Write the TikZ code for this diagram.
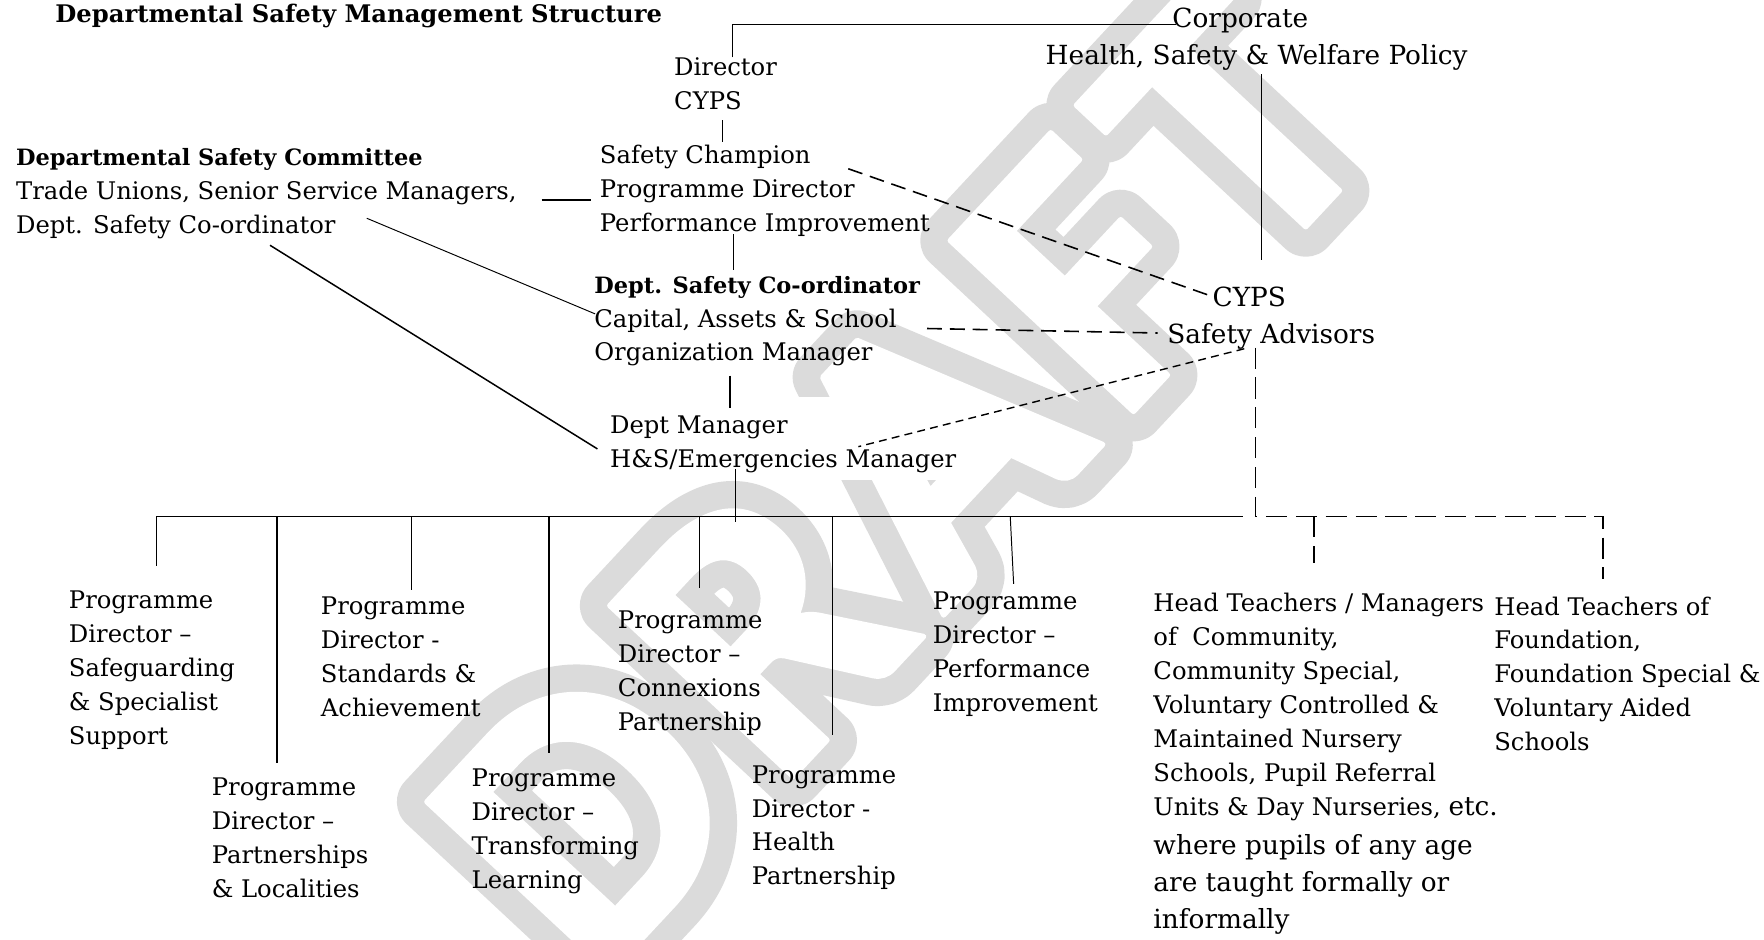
\documentclass[tikz,border=0pt]{standalone}
\usepackage{fontspec}
\setmainfont{DejaVu Serif}
\newfontfamily\wmfont{Carlito}
\usepackage{xcolor}
\usepackage{tikz}

% one unit = one pixel of the drawing
\newlength{\unitpx}
\setlength{\unitpx}{0.0225cm}
\newcommand{\bodyfont}{\fontsize{13.8}{19.33}\selectfont}
\newcommand{\headfont}{\fontsize{12.8}{19.33}\selectfont\bfseries}
\newcommand{\bigfont}{\fontsize{15}{21}\selectfont}
\newcommand{\tallfont}{\fontsize{15}{21}\selectfont}
% hollow letters: a wide grey stroke, then the white letter on top
\newcommand{\hollow}[1]{%
  \rlap{\special{pdf:literal direct 2 Tr 34 w 1 j}#1}%
  \textcolor{white}{\special{pdf:literal direct 2 Tr 3 w 1 j}#1}%
  \special{pdf:literal direct 0 Tr 0.4 w 0 j}}

\begin{document}
\begin{tikzpicture}[
    x=0.0225cm, y=-0.0225cm,
    txt/.style={anchor=north west, align=left, inner sep=0pt, font=\bodyfont},
    bigtxt/.style={anchor=north, align=center, inner sep=0pt, font=\bigfont},
    titletxt/.style={anchor=north west, inner sep=0pt, font=\fontsize{13.8}{17}\selectfont\bfseries},
    watermark/.style={font=\wmfont\bfseries\fontsize{220}{220}\selectfont, text=black!14, rotate=47, inner sep=0pt},
    patch/.style={anchor=north west, fill=white, inner sep=0pt, minimum width=338\unitpx, minimum height=73\unitpx},
    link/.style={draw=black, line width=0.55pt},
    droplink/.style={draw=black, line width=0.85pt},
    boldlink/.style={draw=black, line width=1.2pt},
    dashlink/.style={draw=black, line width=0.9pt, dash pattern=on 8.5pt off 4.5pt},
    finedash/.style={draw=black, line width=0.8pt, dash pattern=on 4.5pt off 3pt},
    schooldash/.style={draw=black, line width=1pt, dash pattern=on 12pt off 5pt}
]
    \useasboundingbox (0,0) rectangle (1568,835);

    % Watermark and the white patch behind the manager
    \node (draft) at (800,425) [watermark] {\hollow{D\kern14pt R\kern14pt A\kern14pt F\kern14pt T}};
    \node (mgrpatch) at (535,353) [patch] {};

    \node (title) at (49,3) [titletxt] {Departmental Safety Management Structure};

    % Top of the structure
    \node (corporate) at (1117,7) [bigtxt] {Corporate\hspace*{29\unitpx}\\Health, Safety \& Welfare Policy};
    \node (director) at (599,51) [txt] {Director\\CYPS};
    \node (champion) at (533,129) [txt] {Safety Champion\\Programme Director\\Performance Improvement};
    \node (coord) at (528,245) [txt] {\headfont Dept. Safety Co-ordinator\\Capital, Assets \& School\\Organization Manager};
    \node (deptmgr) at (542,369) [txt] {Dept Manager\\H\&S/Emergencies Manager};
    \node (committee) at (14,132) [txt] {\headfont Departmental Safety Committee\\Trade Unions, Senior Service Managers,\\Dept. Safety Co-ordinator};
    \node (advisors) at (1130,255) [bigtxt] {CYPS\hspace*{39\unitpx}\\Safety Advisors};

    % Programme directors (staggered in two rows)
    \node (pdsafe) at (61,525) [txt] {Programme\\Director --\\Safeguarding\\\& Specialist\\Support};
    \node (pdpart) at (188,691) [txt] {Programme\\Director --\\Partnerships\\\& Localities};
    \node (pdstand) at (285,530) [txt] {Programme\\Director -\\Standards \&\\Achievement};
    \node (pdtrans) at (419,683) [txt] {Programme\\Director --\\Transforming\\Learning};
    \node (pdconn) at (549,543) [txt] {Programme\\Director --\\Connexions\\Partnership};
    \node (pdhealth) at (668,680) [txt] {Programme\\Director -\\Health\\Partnership};
    \node (pdperf) at (829,526) [txt] {Programme\\Director --\\Performance\\Improvement};

    % Schools
    \node (headcomm) at (1025,527) [txt] {Head Teachers / Managers\\of~ Community,\\Community Special,\\Voluntary Controlled \&\\Maintained Nursery\\Schools, Pupil Referral\\Units \& Day Nurseries, {\tallfont etc.}\\[3pt]\tallfont where pupils of any age\\[1.5pt]\tallfont are taught formally or\\[2pt]\tallfont informally};
    \node (headfound) at (1328,530) [txt] {Head Teachers of\\Foundation,\\Foundation Special \&\\Voluntary Aided\\Schools};

    % Solid line management
    \draw [link] ([xshift=52\unitpx]director.north west) |- ([xshift=116\unitpx, yshift=-15\unitpx]corporate.north west);
    \draw [link] ([xshift=43\unitpx, yshift=-9\unitpx]director.south west) -- ([xshift=43\unitpx, yshift=3\unitpx]director.south west |- champion.north);
    \draw [link] ([xshift=119\unitpx, yshift=3\unitpx]champion.south west) -- ([xshift=124\unitpx, yshift=5\unitpx]coord.north west);
    \draw [droplink] ([xshift=121\unitpx, yshift=-8\unitpx]coord.south west) -- ([xshift=107\unitpx, yshift=6\unitpx]deptmgr.north west);
    \draw [link] ([xshift=4\unitpx, yshift=-3\unitpx]corporate.south) -- ([xshift=4\unitpx, yshift=24\unitpx]corporate.south |- advisors.north);

    % Committee links
    \draw [boldlink] ([xshift=22\unitpx, yshift=-8\unitpx]committee.east |- champion.west) -- ([xshift=-8\unitpx, yshift=-8\unitpx]champion.west);
    \draw [link] ([xshift=312\unitpx, yshift=-62\unitpx]committee.north west) -- ([xshift=1\unitpx, yshift=-34\unitpx]coord.north west);
    \draw [droplink] ([xshift=226\unitpx, yshift=-86\unitpx]committee.north west) -- ([xshift=-11\unitpx, yshift=-30\unitpx]deptmgr.north west);

    % Advisory (dashed) links
    \draw [dashlink] ([xshift=221\unitpx, yshift=-21\unitpx]champion.north west) -- ([xshift=-51\unitpx, yshift=-9\unitpx]advisors.north);
    \draw [dashlink] ([xshift=296\unitpx, yshift=-47\unitpx]coord.north west) -- ([xshift=-101\unitpx, yshift=-41\unitpx]advisors.north);
    \draw [finedash] ([xshift=-24\unitpx, yshift=-55\unitpx]advisors.north) -- ([xshift=221\unitpx, yshift=-28\unitpx]deptmgr.north west);

    % Bus to the programme directors
    \coordinate (busL) at (139,459);
    \coordinate (busR) at (1105,459);
    \draw [link] (busL) -- (busR);
    \draw [link] ([xshift=112\unitpx, yshift=3\unitpx]deptmgr.south west) -- ([xshift=112\unitpx, yshift=-5\unitpx]deptmgr.south west |- busL);
    \draw [link] (busL) -- ([xshift=78\unitpx, yshift=22\unitpx]pdsafe.north west);
    \draw [droplink] ([xshift=58\unitpx]pdpart.north west |- busL) -- ([xshift=58\unitpx, yshift=13\unitpx]pdpart.north west);
    \draw [link] ([xshift=81\unitpx]pdstand.north west |- busL) -- ([xshift=81\unitpx, yshift=6\unitpx]pdstand.north west);
    \draw [droplink] ([xshift=69\unitpx]pdtrans.north west |- busL) -- ([xshift=69\unitpx, yshift=14\unitpx]pdtrans.north west);
    \draw [link] ([xshift=73\unitpx]pdconn.north west |- busL) -- ([xshift=73\unitpx, yshift=20\unitpx]pdconn.north west);
    \draw [droplink] ([xshift=72\unitpx]pdhealth.north west |- busL) -- ([xshift=72\unitpx, yshift=27\unitpx]pdhealth.north west);
    \draw [link] ([xshift=69\unitpx]pdperf.north west |- busL) -- ([xshift=72\unitpx, yshift=7\unitpx]pdperf.north west);

    % Schools branch from the advisors
    \draw [schooldash] ([xshift=-14\unitpx, yshift=-54\unitpx]advisors.north) -- ([xshift=-14\unitpx]advisors.north |- busR) -| ([xshift=97\unitpx, yshift=15\unitpx]headfound.north west);
    \draw [schooldash] ([xshift=143\unitpx]headcomm.north west |- busR) -- ([xshift=143\unitpx, yshift=27\unitpx]headcomm.north west);

\end{tikzpicture}
\end{document}
